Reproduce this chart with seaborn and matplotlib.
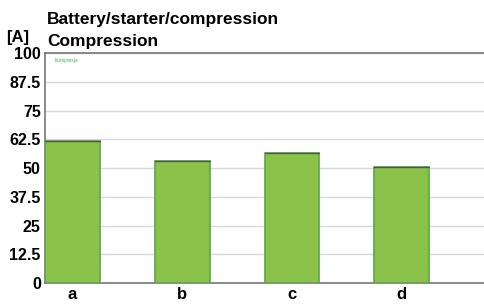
import numpy as np
import pandas as pd
import matplotlib
matplotlib.use('Agg')
import matplotlib.pyplot as plt
import seaborn as sns

categories = ['a', 'b', 'c', 'd']
current = [61.9, 52.9, 56.7, 50.6]
yticks = [0, 12.5, 25, 37.5, 50, 62.5, 75, 87.5, 100]
ytick_labels = ['0', '12.5', '25', '37.5', '50', '62.5', '75', '87.5', '100']

df = pd.DataFrame({'cat': categories, 'val': current})

sns.set_style('white')
plt.rcParams['font.family'] = ['Liberation Sans', 'DejaVu Sans']
plt.rcParams['text.color'] = 'black'
plt.rcParams['xtick.color'] = 'black'
plt.rcParams['ytick.color'] = 'black'

fig = plt.figure(figsize=(4.84, 3.07), dpi=100)
ax = fig.add_axes([0.093, 0.078, 0.907, 0.749])

sns.barplot(data=df, x='cat', y='val', color='#8bc34a', width=0.5,
            edgecolor='#5aa845', linewidth=1.2, saturation=1, ax=ax, zorder=3)

# darker line on top of each bar
for p in ax.patches:
    ax.plot([p.get_x(), p.get_x() + p.get_width()], [p.get_height()] * 2,
            color='#4a5a40', linewidth=1.0, zorder=4)

ax.set_xlim(-0.25, 3.75)
ax.set_ylim(0, 100)
ax.set_yticks(yticks)
ax.set_yticklabels(ytick_labels, fontsize=11.5, fontweight='bold')
ax.set_xticks(range(len(categories)))
ax.set_xticklabels(categories, fontsize=12, fontweight='bold')
ax.tick_params(axis='both', length=0, pad=3)
ax.set_xlabel('')
ax.set_ylabel('')
ax.grid(axis='y', color='#d8d8d8', linewidth=1, zorder=0)
ax.set_axisbelow(True)

for side in ['left', 'top', 'bottom']:
    ax.spines[side].set_color('#777777')
    ax.spines[side].set_linewidth(1.2)
ax.spines['right'].set_visible(False)

fig.text(0.012, 0.878, '[A]', fontsize=12, fontweight='bold', va='center')
fig.text(0.097, 0.937, 'Battery/starter/compression', fontsize=12.5, fontweight='bold', va='center')
fig.text(0.097, 0.866, 'Compression', fontsize=12.5, fontweight='bold', va='center')
ax.text(0.022, 0.97, 'Kompresja', transform=ax.transAxes, fontsize=3.5, color='#3cb44b', va='center')

fig.savefig('out.png', dpi=100)
